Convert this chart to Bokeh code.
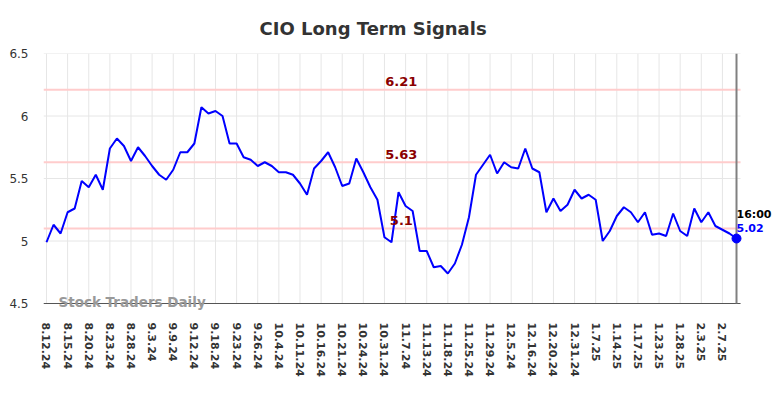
from bokeh.plotting import figure
from bokeh.models import Label, FixedTicker
from bokeh.embed import file_html
from bokeh.resources import INLINE

values = [4.99, 5.13, 5.06, 5.23, 5.26, 5.48, 5.43, 5.53, 5.41, 5.74,
          5.82, 5.76, 5.64, 5.75, 5.68, 5.60, 5.53, 5.49, 5.57, 5.71,
          5.71, 5.78, 6.07, 6.02, 6.04, 6.00, 5.78, 5.78, 5.67, 5.65,
          5.60, 5.63, 5.60, 5.55, 5.55, 5.53, 5.46, 5.37, 5.58, 5.64,
          5.71, 5.59, 5.44, 5.46, 5.66, 5.55, 5.43, 5.33, 5.03, 4.99,
          5.39, 5.28, 5.24, 4.92, 4.92, 4.79, 4.80, 4.74, 4.82, 4.97,
          5.19, 5.53, 5.61, 5.69, 5.54, 5.63, 5.59, 5.58, 5.74, 5.58,
          5.55, 5.23, 5.34, 5.24, 5.29, 5.41, 5.34, 5.37, 5.33, 5.00,
          5.08, 5.20, 5.27, 5.23, 5.15, 5.23, 5.05, 5.06, 5.04, 5.22,
          5.08, 5.04, 5.26, 5.15, 5.23, 5.12, 5.09, 5.06, 5.02]

tick_labels = ["8.12.24", "8.15.24", "8.20.24", "8.23.24", "8.28.24", "9.3.24",
               "9.9.24", "9.12.24", "9.18.24", "9.23.24", "9.26.24", "10.4.24",
               "10.11.24", "10.16.24", "10.21.24", "10.24.24", "10.31.24",
               "11.7.24", "11.13.24", "11.18.24", "11.25.24", "11.29.24",
               "12.5.24", "12.16.24", "12.20.24", "12.31.24", "1.7.25",
               "1.14.25", "1.17.25", "1.23.25", "1.28.25", "2.3.25", "2.7.25"]
tick_step = 3

levels = [6.21, 5.63, 5.1]
level_texts = ["6.21", "5.63", "5.1"]
level_label_x = 50.4

last_time = "16:00"
last_value_text = "5.02"
y_ticks = [4.5, 5, 5.5, 6, 6.5]
y_tick_texts = ["4.5", "5", "5.5", "6", "6.5"]

x = list(range(len(values)))
tick_idx = [i * tick_step for i in range(len(tick_labels))]
last_x = x[-1]
last_y = values[-1]

x_start = -0.426
x_plot_end = 98.57        # right edge of the drawn chart area
x_view_end = 103.68       # canvas keeps room for the end labels
y_start = 4.444
y_min, y_max = y_ticks[0], y_ticks[-1]

p = figure(width=776, height=390, output_backend="svg", toolbar_location=None,
           x_range=(x_start, x_view_end), y_range=(y_start, y_max),
           title="CIO Long Term Signals",
           min_border_left=43, min_border_right=0,
           min_border_top=53, min_border_bottom=80)

p.title.align = "left"
p.title.offset = 216
p.title.text_font = "DejaVu Sans"
p.title.text_font_size = "18px"
p.title.text_font_style = "bold"
p.title.text_color = "#333333"
p.title.standoff = 30

p.outline_line_color = None

# x axis (labels only; line drawn as a segment)
p.xaxis.ticker = FixedTicker(ticks=tick_idx)
p.xaxis.major_label_overrides = {i: t for i, t in zip(tick_idx, tick_labels)}
p.xaxis.major_label_orientation = "vertical"
p.xaxis.major_label_text_font = "DejaVu Sans"
p.xaxis.major_label_text_font_size = "11px"
p.xaxis.major_label_text_font_style = "bold"
p.xaxis.major_label_text_color = "#333333"
p.xaxis.major_tick_out = 0
p.xaxis.major_tick_in = 0
p.xaxis.minor_tick_out = 0
p.xaxis.minor_tick_in = 0
p.xaxis.major_label_standoff = 12
p.xaxis.axis_line_color = None

p.yaxis.ticker = FixedTicker(ticks=y_ticks)
p.yaxis.major_label_overrides = {v: t for v, t in zip(y_ticks, y_tick_texts)}
p.yaxis.major_label_text_font = "DejaVu Sans"
p.yaxis.major_label_text_font_size = "12px"
p.yaxis.major_label_text_color = "#333333"
p.yaxis.axis_line_color = None
p.yaxis.major_tick_out = 0
p.yaxis.major_tick_in = 0
p.yaxis.minor_tick_out = 0
p.yaxis.minor_tick_in = 0
p.yaxis.major_label_standoff = 15

p.ygrid.grid_line_color = None
p.xgrid.grid_line_color = None

# grid lines
p.segment(x0=tick_idx, y0=[y_min] * len(tick_idx), x1=tick_idx, y1=[y_max] * len(tick_idx),
          line_color="#e6e6e6", line_width=1)
p.segment(x0=[x_start] * len(y_ticks), y0=y_ticks, x1=[x_plot_end] * len(y_ticks), y1=y_ticks,
          line_color="#e6e6e6", line_width=1)

# signal levels
p.segment(x0=[x_start] * len(levels), y0=levels, x1=[x_plot_end] * len(levels), y1=levels,
          line_color="#ffcccc", line_width=2)
for lv, txt in zip(levels, level_texts):
    p.add_layout(Label(x=level_label_x, y=lv, text=txt, text_align="center",
                       text_baseline="alphabetic", y_offset=8,
                       text_font="DejaVu Sans", text_font_size="13px",
                       text_font_style="bold", text_color="#8b0000"))

# bottom axis line
p.segment(x0=[x_start], y0=[y_min], x1=[x_plot_end], y1=[y_min],
          line_color="#555555", line_width=1)

# right vertical marker line
p.segment(x0=[last_x], y0=[y_min], x1=[last_x], y1=[y_max],
          line_color="#808080", line_width=2)

# price line
p.line(x, values, line_color="#0000ff", line_width=2)
p.scatter([last_x], [last_y], size=9, fill_color="#0000ff", line_color="#0000ff")

# end annotations
p.add_layout(Label(x=last_x, y=last_y, text=last_time, text_align="left",
                   text_baseline="alphabetic", y_offset=24,
                   text_font="DejaVu Sans", text_font_size="11px",
                   text_font_style="bold", text_color="#000000"))
p.add_layout(Label(x=last_x, y=last_y, text=last_value_text, text_align="left",
                   text_baseline="alphabetic", y_offset=11,
                   text_font="DejaVu Sans", text_font_size="11px",
                   text_font_style="bold", text_color="#0000ff"))

# watermark
p.add_layout(Label(x=1.7, y=y_min, text="Stock Traders Daily", text_align="left",
                   text_baseline="middle", y_offset=2,
                   text_font="DejaVu Sans", text_font_size="13.5px",
                   text_font_style="bold", text_color="#999999"))

open("out.html", "w").write(file_html(p, INLINE))
